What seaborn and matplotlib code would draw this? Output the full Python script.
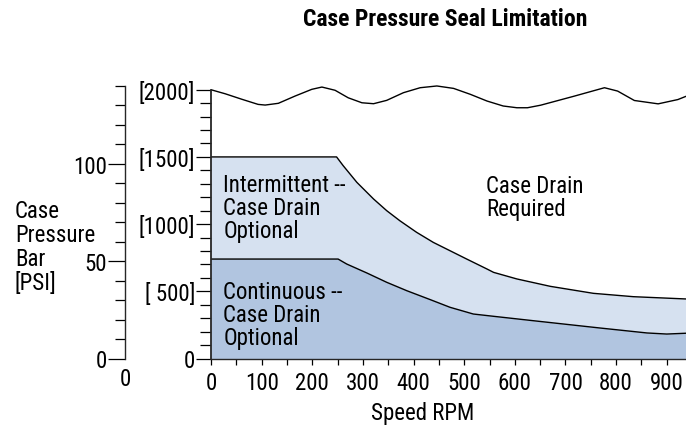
import matplotlib
matplotlib.use("Agg")
import matplotlib.pyplot as plt
from matplotlib.ticker import MultipleLocator, FixedLocator
import seaborn as sns
import pandas as pd

# ---- data ----
wave_rpm = [0, 28, 61, 93, 107, 133, 166, 199, 219, 245, 271, 298, 321, 347, 380, 413,
            446, 479, 512, 545, 577, 604, 625, 651, 717, 777, 803, 836, 883, 922, 938]
wave_psi = [2000, 1970, 1929, 1891, 1886, 1899, 1953, 2003, 2020, 1996, 1940, 1903, 1896,
            1921, 1978, 2015, 2028, 2010, 1966, 1916, 1879, 1866, 1866, 1885, 1952, 2015,
            1990, 1920, 1895, 1927, 1951]

inter_rpm = [0, 248, 261, 288, 321, 347, 373, 406, 439, 472, 505, 545, 558, 604, 670,
             755, 834, 938]
inter_psi = [1500, 1500, 1435, 1311, 1187, 1100, 1025, 939, 864, 802, 740, 666, 641,
             592, 537, 485, 460, 443]

cont_rpm = [0, 251, 268, 308, 347, 387, 433, 472, 518, 558, 637, 768, 861, 900, 938]
cont_psi = [740, 740, 703, 636, 567, 504, 438, 381, 331, 314, 281, 227, 190, 182, 188]

x_ticks = [0, 100, 200, 300, 400, 500, 600, 700, 800, 900]
psi_ticks = [0, 500, 1000, 1500, 2000]
psi_labels = ["0", "[ 500]", "[1000]", "[1500]", "[2000]"]
bar_ticks = [0, 50, 100]
bar_labels = ["0", "50", "100"]
ylabel_lines = ["Case", "Pressure", "Bar", "[PSI]"]

PSI_PER_BAR = 14.5038

sns.set_theme(style="ticks")
plt.rcParams["font.family"] = ["Liberation Sans Narrow", "DejaVu Sans Condensed",
                               "Roboto Condensed", "Roboto", "DejaVu Sans"]
plt.rcParams["text.color"] = "black"
plt.rcParams["xtick.color"] = "black"
plt.rcParams["ytick.color"] = "black"
plt.rcParams["axes.labelcolor"] = "black"

W, H = 686, 427
fig = plt.figure(figsize=(W / 100, H / 100), dpi=100)

bottom = 1 - 359.5 / H
top = 1 - 77.3 / H
left = 211 / W
ax = fig.add_axes([left, bottom, 1 - left, top - bottom])

light = "#d6e1f0"
dark = "#b1c5e0"
ax.fill_between(inter_rpm, inter_psi, 0, color=light, lw=0, zorder=1)
ax.fill_between(cont_rpm, cont_psi, 0, color=dark, lw=0, zorder=2)

df_w = pd.DataFrame({"rpm": wave_rpm, "psi": wave_psi})
df_i = pd.DataFrame({"rpm": inter_rpm, "psi": inter_psi})
df_c = pd.DataFrame({"rpm": cont_rpm, "psi": cont_psi})
for d in (df_w, df_i, df_c):
    sns.lineplot(data=d, x="rpm", y="psi", color="black", lw=1.0, ax=ax,
                 sort=False, estimator=None, zorder=3)
for ln in ax.lines:
    ln.set_solid_joinstyle("round")

ax.set_xlim(0, 938)
ax.set_ylim(0, 2100)
ax.set_xlabel("")
ax.set_ylabel("")
for s in ("top", "right"):
    ax.spines[s].set_visible(False)
ax.spines["left"].set_bounds(0, 2000)
ax.spines["left"].set_linewidth(1.3)
ax.spines["bottom"].set_linewidth(1.0)
ax.spines["left"].set_zorder(5)

ax.xaxis.set_major_locator(FixedLocator(x_ticks))
ax.xaxis.set_minor_locator(MultipleLocator(50))
ax.set_xticklabels([str(v) for v in x_ticks])
ax.yaxis.set_major_locator(FixedLocator(psi_ticks))
ax.yaxis.set_minor_locator(FixedLocator([v for v in range(0, 2001, 100)]))
ax.set_yticklabels(psi_labels)

fs = 16.5
ls = 1.0
ax.tick_params(axis="x", which="both", length=4, width=0.9, direction="out",
               labelsize=fs, pad=5)
ax.tick_params(axis="y", which="major", length=11, width=0.9, labelsize=fs, pad=0.5)
ax.tick_params(axis="y", which="minor", length=8, width=0.9)

ax.text(24, 1125, "Intermittent --\nCase Drain\nOptional", fontsize=fs,
        va="center", ha="left", linespacing=ls, zorder=6)
ax.text(24, 331, "Continuous --\nCase Drain\nOptional", fontsize=fs,
        va="center", ha="left", linespacing=ls, zorder=6)
ax.text(544, 1199, "Case Drain\nRequired", fontsize=fs,
        va="center", ha="left", linespacing=ls, zorder=6)

# secondary (bar) axis
bx = fig.add_axes([125 / W, bottom, 0.0001, top - bottom])
bx.set_ylim(0, 2100 / PSI_PER_BAR)
bx.set_xticks([])
for s in ("top", "right", "bottom"):
    bx.spines[s].set_visible(False)
bx.spines["left"].set_bounds(0, 140)
bx.spines["left"].set_linewidth(1.0)
bx.yaxis.set_major_locator(FixedLocator(bar_ticks))
bx.yaxis.set_minor_locator(MultipleLocator(10))
bx.set_yticklabels(bar_labels)
bx.tick_params(axis="y", which="major", length=12.5, width=0.9, labelsize=fs, pad=0.5)
bx.tick_params(axis="y", which="minor", length=7, width=0.9)
bx.patch.set_visible(False)

fig.text(125 / W, 1 - 380 / H, "0", fontsize=fs, ha="center", va="center")
for i, line in enumerate(ylabel_lines):
    fig.text(15 / W, 1 - (218 + 24 * i) / H, line, fontsize=fs,
             ha="left", va="baseline")
fig.text(445 / W, 1 - 19 / H, "Case Pressure Seal Limitation", fontsize=17,
         fontweight="bold", ha="center", va="center")
fig.text(423 / W, 1 - 414 / H, "Speed RPM", fontsize=fs, ha="center", va="center")

fig.savefig("out.png", dpi=100)
